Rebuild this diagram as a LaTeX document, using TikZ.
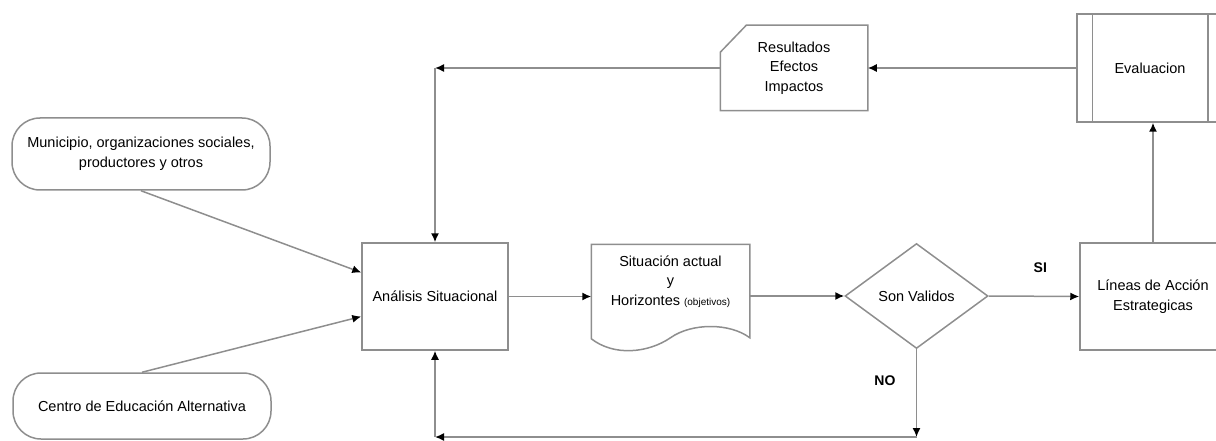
\documentclass[tikz,border=0pt]{standalone}
\usepackage{fontspec}
\setmainfont{Liberation Sans}
\usetikzlibrary{shapes.geometric,arrows.meta}
\definecolor{linegray}{HTML}{8E8E8E}

\begin{document}
\begin{tikzpicture}[x=1pt, y=-1pt, line width=1.5pt,
    every node/.style = {font=\fontsize{14.5}{19.5}\selectfont, align=center},
    term/.style = {draw=linegray, rounded corners=28pt, minimum width=258pt, minimum height=72pt},
    proc/.style = {draw=linegray, minimum width=146pt, minimum height=107pt},
    dec/.style = {draw=linegray, diamond, minimum width=143pt, minimum height=105pt, inner sep=0pt},
    lbl/.style = {font=\fontsize{14}{16}\selectfont\bfseries},
    arr/.style = {draw=linegray, -{Latex[length=9pt, width=8pt, color=black]}}]
    \useasboundingbox (0,0) rectangle (1216,441);
    \node[term] (mun) at (141,154) {Municipio, organizaciones sociales,\\productores y otros};
    \node[term, minimum height=66pt] (cen) at (142,406) {Centro de Educación Alternativa};
    \node[proc] (an) at (435,296.5) {Análisis Situacional};
    \node[minimum width=157pt, minimum height=93pt] (sit) at (670.5,291.5) {};
    \draw[linegray] (sit.south west) -- (sit.north west) -- (sit.north east) -- ([yshift=1pt]sit.south east)
        .. controls ([xshift=-20pt, yshift=16pt]sit.south east) and ([xshift=-58pt, yshift=16pt]sit.south east) .. ([yshift=1pt]sit.south)
        .. controls ([xshift=-22pt, yshift=-14pt]sit.south) and ([xshift=-56pt, yshift=-18pt]sit.south) .. cycle;
    \node (sittext) at ([yshift=10pt]sit.center) {Situación actual\\y\\Horizontes {\fontsize{10}{12}\selectfont(objetivos)}};
    \node[dec] (dec) at (916.5,296) {Son Validos};
    \node[proc] (lin) at (1153,296.5) {Líneas de Acción\\Estrategicas};
    \node[proc, minimum height=108pt] (ev) at (1150,68) {Evaluacion};
    \draw[linegray] ([xshift=16pt]ev.north west) -- ([xshift=16pt]ev.south west);
    \draw[linegray] ([xshift=-16pt]ev.north east) -- ([xshift=-16pt]ev.south east);
    \node[minimum width=146pt, minimum height=84pt] (res) at (794,68) {Resultados\\Efectos\\Impactos};
    \draw[linegray] ([xshift=26pt]res.north west) -- (res.north east) -- (res.south east) -- (res.south west)
        -- ([yshift=-27pt]res.north west) -- cycle;

    \coordinate (tl) at (an.north |- res.west);
    \coordinate (br) at (dec.south |- 0,437);
    \coordinate (bl) at (an.south |- br);
    \draw[arr] (ev.west) -- (res.east);
    \draw[arr] (res.west) -- (tl);
    \draw[arr] (tl) -- (an.north);
    \draw[arr] (mun.south) -- ([yshift=24pt]an.west);
    \draw[arr] (cen.north) -- ([yshift=-20pt]an.west);
    \draw[arr] (an.east) -- (an.east -| sit.west);
    \draw[arr] (sit.east |- dec.west) -- (dec.west);
    \draw[arr] (dec.east) -- (lin.west) node[lbl, pos=0.57, above=20pt] (si) {SI};
    \draw[arr] (lin.north) -- (lin.north |- ev.south);
    \draw[arr] (dec.south) -- (br) node[lbl, pos=0.36, left=17pt] (no) {NO};
    \draw[arr] (br) -- (bl);
    \draw[arr] (bl) -- (an.south);
\end{tikzpicture}
\end{document}
